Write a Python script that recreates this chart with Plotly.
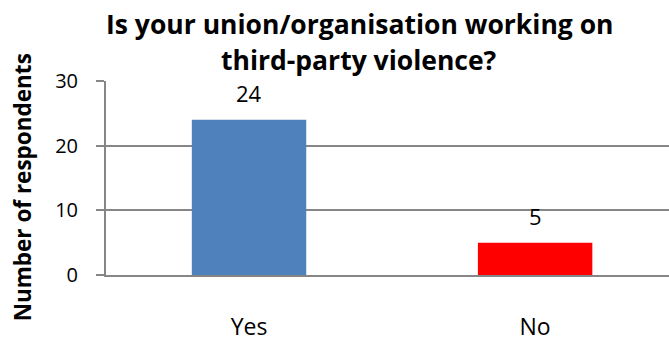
import plotly.graph_objects as go

categories = ["Yes", "No"]
values = [24, 5]
colors = ["#4F81BD", "#FF0000"]
title_lines = ["Is your union/organisation working on", "third-party violence?"]
y_title = "Number of respondents"
y_ticks = [0, 10, 20, 30]

FONT = "Open Sans"
W, H = 669, 342
L, T, B = 106, 81, 64
plot_w = W - L
plot_h = H - T - B

fig = go.Figure()
fig.add_trace(go.Bar(
    x=categories, y=values, marker=dict(color=colors, line=dict(width=0)),
    width=0.4, showlegend=False, hoverinfo="skip",
))

ann = []
for c, v in zip(categories, values):
    ann.append(dict(x=c, y=v, xref="x", yref="y", text=str(v), showarrow=False,
                    yanchor="middle", yshift=27,
                    font=dict(family=FONT, size=22, color="#000000")))
title_y = [23, 60]
for line, yc in zip(title_lines, title_y):
    ann.append(dict(x=(359 - L) / plot_w, y=(H - B - yc) / plot_h, xref="paper", yref="paper",
                    text="<b>%s</b>" % line, showarrow=False, xanchor="center", yanchor="middle",
                    font=dict(family=FONT, size=26.5, color="#000000")))
ann.append(dict(x=(22 - L) / plot_w, y=(H - B - 189) / plot_h, xref="paper", yref="paper",
                text="<b>%s</b>" % y_title, showarrow=False, textangle=-90,
                xanchor="center", yanchor="middle",
                font=dict(family=FONT, size=22.5, color="#000000")))

fig.update_layout(
    width=W, height=H,
    margin=dict(l=L, r=0, t=T, b=B, pad=0),
    paper_bgcolor="white", plot_bgcolor="white",
    annotations=ann,
    xaxis=dict(range=[-0.5, 1.468], showgrid=False, showline=True, linecolor="#868686", linewidth=2,
               ticks="", tickfont=dict(family=FONT, size=23, color="#000000"),
               ticklabelstandoff=30, fixedrange=True),
    yaxis=dict(range=[0, 30], tickvals=y_ticks, showgrid=True, gridcolor="#868686", gridwidth=2,
               showline=True, linecolor="#868686", linewidth=2, zeroline=False,
               ticks="outside", ticklen=8, tickcolor="#868686", tickwidth=2,
               tickfont=dict(family=FONT, size=20, color="#000000"), ticklabelstandoff=14,
               fixedrange=True),
)

fig.write_html("out.html", config={"displayModeBar": False})
